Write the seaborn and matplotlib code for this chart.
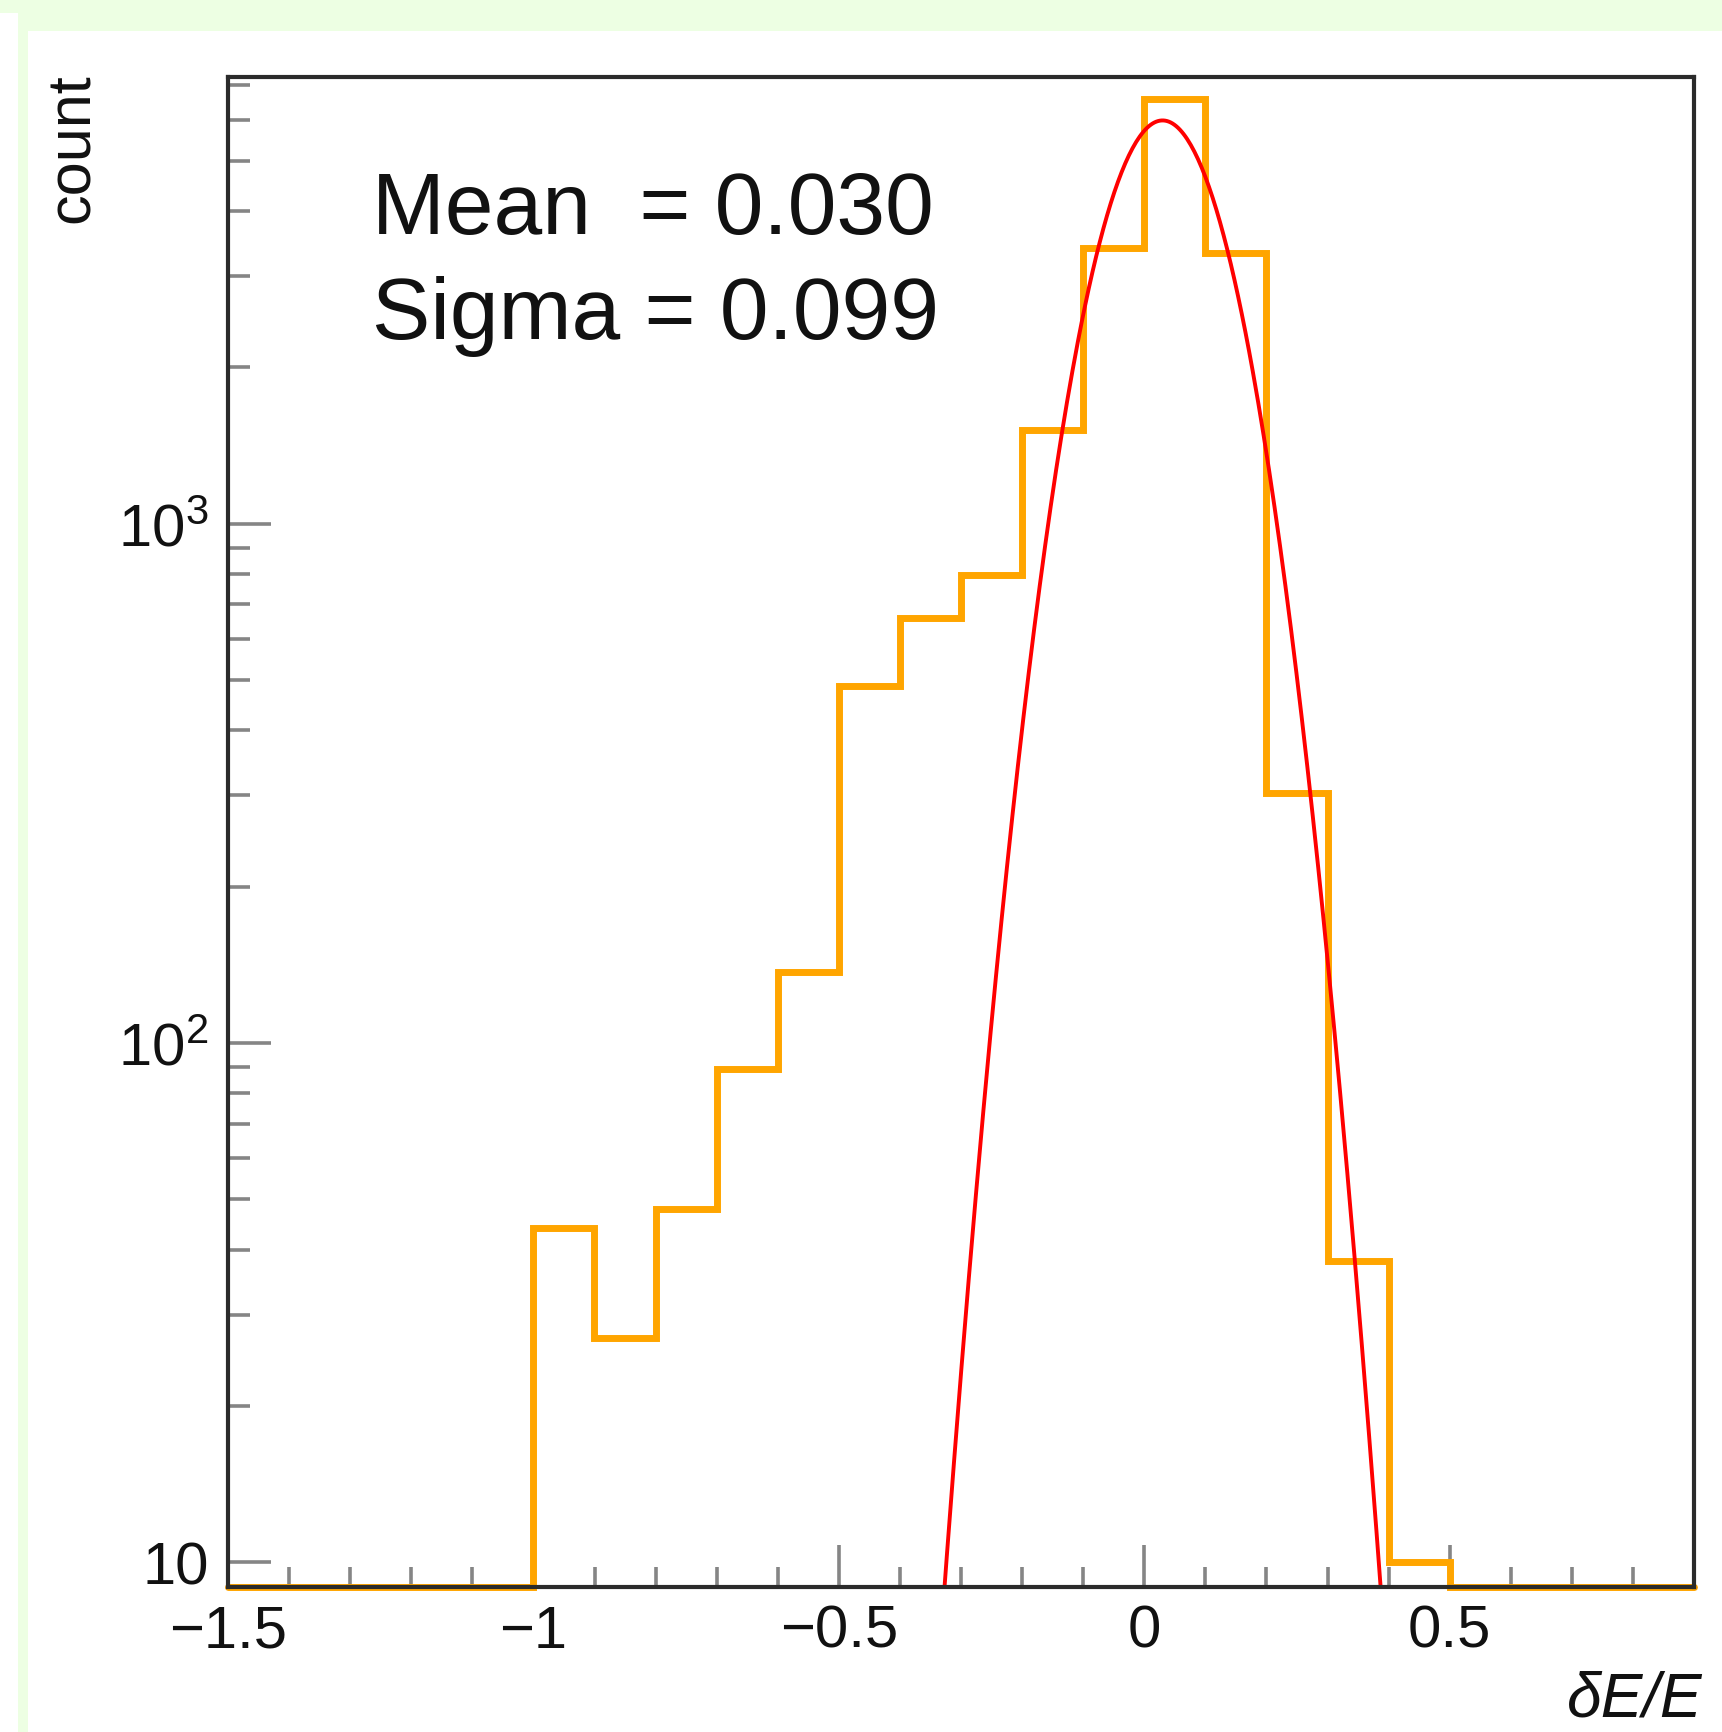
import numpy as np
import pandas as pd
import matplotlib
matplotlib.use("Agg")
import matplotlib.pyplot as plt
from matplotlib.patches import Rectangle
from matplotlib.ticker import MultipleLocator, LogLocator, NullFormatter
import seaborn as sns

# ---------------- data ----------------
bin_edges = [round(-1.5 + 0.1 * i, 2) for i in range(25)]
counts = [0, 0, 0, 0, 0,            # -1.5 .. -1.0
          44, 27, 48, 89, 137,      # -1.0 .. -0.5
          487, 659, 798, 1517, 3404,  # -0.5 .. 0.0
          6590, 3320, 303, 38, 10,  # 0.0 .. 0.5
          0, 0, 0, 0]               # 0.5 .. 0.9
fit_mean = 0.030
fit_sigma = 0.099
fit_amplitude = 5980
xtick_values = [-1.5, -1.0, -0.5, 0.0, 0.5]
xtick_labels = ["\u22121.5", "\u22121", "\u22120.5", "0", "0.5"]
ytick_values = [10, 100, 1000]
ytick_labels = ["10", "$10^{2}$", "$10^{3}$"]
x_range = (-1.5, 0.9)
y_range = (8.97, 7250)
stat_lines = ["Mean  = 0.030", "Sigma = 0.099"]

# ---------------- style ----------------
sns.set_style("white")
plt.rcParams["font.family"] = ["Liberation Sans", "DejaVu Sans"]
plt.rcParams["mathtext.fontset"] = "custom"
plt.rcParams["mathtext.rm"] = "Liberation Sans"
plt.rcParams["mathtext.it"] = "Liberation Sans:italic"
plt.rcParams["axes.unicode_minus"] = True

W, H = 1722, 1733
fig = plt.figure(figsize=(W / 100, H / 100), dpi=100)
fig.patch.set_facecolor("white")

green = "#EDFFE3"
fig.add_artist(Rectangle((18 / W, 1 - 32 / H), 1, 32 / H, transform=fig.transFigure,
                         facecolor=green, edgecolor="none", zorder=0))
fig.add_artist(Rectangle((0, 1 - 14 / H), 1, 14 / H, transform=fig.transFigure,
                         facecolor=green, edgecolor="none", zorder=0))
fig.add_artist(Rectangle((18 / W, 0), 10 / W, 1, transform=fig.transFigure,
                         facecolor=green, edgecolor="none", zorder=0))

ax = fig.add_axes([228 / W, (H - 1588) / H, 1466 / W, 1510 / H])
ax.set_facecolor("white")
ax.set_yscale("log")

# histogram (empty bins drawn on the lower edge, as ROOT does)
edges = np.array(bin_edges)
centers = (edges[:-1] + edges[1:]) / 2
plot_counts = np.maximum(np.array(counts, dtype=float), y_range[0])
hist_df = pd.DataFrame({"x": centers, "w": plot_counts})
sns.histplot(data=hist_df, x="x", weights="w", bins=bin_edges, element="step",
             fill=False, color="#FFA500", linewidth=5.0, ax=ax)
for ln in ax.lines:
    ln.set_clip_on(False)
    ln.set_solid_joinstyle("miter")

# gaussian fit
xf = np.linspace(fit_mean - 4.5 * fit_sigma, fit_mean + 4.5 * fit_sigma, 300)
yf = fit_amplitude * np.exp(-0.5 * ((xf - fit_mean) / fit_sigma) ** 2)
fit_df = pd.DataFrame({"x": xf, "y": yf})
sns.lineplot(data=fit_df, x="x", y="y", color="#FF0000", linewidth=2.8, ax=ax,
             sort=False, estimator=None)

ax.set_xlim(*x_range)
ax.set_ylim(*y_range)

# ticks
ax.set_xticks(xtick_values, xtick_labels)
ax.xaxis.set_minor_locator(MultipleLocator(0.1))
ax.set_yticks(ytick_values, ytick_labels)
ax.yaxis.set_minor_locator(LogLocator(base=10, subs=np.arange(2, 10)))
ax.yaxis.set_minor_formatter(NullFormatter())
ax.tick_params(which="both", direction="in", color="#858585", width=2.6,
               bottom=True, left=True, top=False, right=False,
               labelsize=43, labelcolor="#111111")
ax.tick_params(axis="y", which="major", length=31, pad=14)
ax.tick_params(axis="y", which="minor", length=16)
ax.tick_params(axis="x", which="major", length=30, pad=12)
ax.tick_params(axis="x", which="minor", length=14.5)

for sp in ax.spines.values():
    sp.set_color("#2b2b2b")
    sp.set_linewidth(3.0)
    sp.set_visible(True)
    sp.set_zorder(3)

# labels
ax.set_ylabel("count", fontsize=44, loc="top", color="#111111")
ax.yaxis.label.set_verticalalignment("center")
ax.yaxis.set_label_coords(-0.1055, 1.003)
ax.set_xlabel("\u03b4E/E", fontsize=45, loc="right", style="italic", color="#111111")
ax.xaxis.label.set_verticalalignment("baseline")
ax.xaxis.set_label_coords(1.006, -0.0854)

# fit statistics
ax.text(0.098, 0.8967, stat_lines[0], transform=ax.transAxes, fontsize=63,
        ha="left", va="baseline", color="#111111")
ax.text(0.098, 0.827, stat_lines[1], transform=ax.transAxes, fontsize=63,
        ha="left", va="baseline", color="#111111")

fig.savefig("out.png", dpi=100, facecolor=fig.get_facecolor())
